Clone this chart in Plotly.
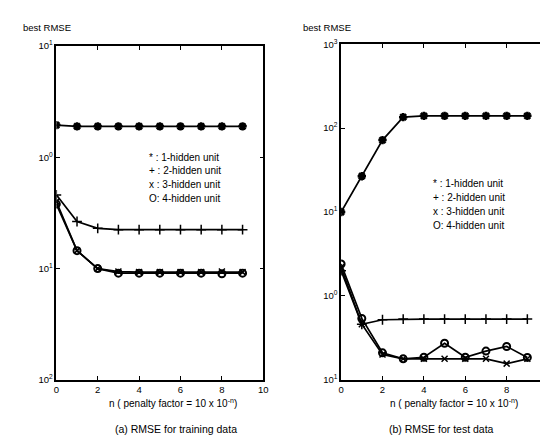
import plotly.graph_objects as go

n = [0, 1, 2, 3, 4, 5, 6, 7, 8, 9]

# (a) training data
train_h1 = [1.95, 1.9, 1.9, 1.9, 1.9, 1.9, 1.9, 1.9, 1.9, 1.9]
train_h2 = [0.46, 0.265, 0.23, 0.224, 0.224, 0.224, 0.224, 0.224, 0.224, 0.224]
train_h3 = [0.40, 0.145, 0.10, 0.094, 0.093, 0.093, 0.093, 0.093, 0.094, 0.093]
train_h4 = [0.38, 0.145, 0.10, 0.091, 0.091, 0.091, 0.091, 0.091, 0.090, 0.091]

# (b) test data
test_h1 = [10, 26.7, 72, 135, 140, 140, 140, 140, 140, 140]
test_h2 = [2.0, 0.46, 0.52, 0.53, 0.53, 0.53, 0.53, 0.53, 0.53, 0.53]
test_h3 = [2.2, 0.46, 0.20, 0.178, 0.178, 0.178, 0.178, 0.178, 0.156, 0.178]
test_h4 = [2.4, 0.54, 0.21, 0.178, 0.186, 0.273, 0.186, 0.22, 0.25, 0.185]

legend_lines = ["* : 1-hidden unit", "+ : 2-hidden unit", "x : 3-hidden unit", "O: 4-hidden unit"]
left_ticktext = ["10<sup>2</sup>", "10<sup>1</sup>", "10<sup>0</sup>", "10<sup>1</sup>"]
left_tickvals = [0.01, 0.1, 1, 10]
right_ticktext = ["10<sup>1</sup>", "10<sup>0</sup>", "10<sup>1</sup>", "10<sup>2</sup>", "10<sup>3</sup>"]
right_tickvals = [0.1, 1, 10, 100, 1000]

W, H = 548, 443
FONT = "Liberation Sans, Arial, sans-serif"

def px(x):
    return x / W

def py(y):
    return 1 - y / H

symbols = ["asterisk-open", "cross-thin-open", "x-thin-open", "circle-open"]
sizes = [7, 7, 6, 7]
mwidths = [2.5, 1.5, 1.5, 2]

fig = go.Figure()

for ax, series in (("", [train_h1, train_h2, train_h3, train_h4]),
                   ("2", [test_h1, test_h2, test_h3, test_h4])):
    for s, sym, sz, mw in zip(series, symbols, sizes, mwidths):
        fig.add_trace(go.Scatter(
            x=n, y=s, mode="lines+markers",
            xaxis="x" + ax, yaxis="y" + ax,
            line=dict(color="black", width=1.7),
            marker=dict(symbol=sym, size=sz, color="black",
                        line=dict(color="black", width=mw)),
            showlegend=False, hoverinfo="skip"))

axis_common = dict(showgrid=False, zeroline=False, showline=True, linecolor="black",
                   linewidth=1.5, mirror="ticks", ticks="inside", ticklen=4,
                   tickcolor="black", tickwidth=1,
                   tickfont=dict(family=FONT, size=9.5, color="black"))

fig.update_layout(
    width=W, height=H,
    margin=dict(l=0, r=0, t=0, b=0),
    paper_bgcolor="white", plot_bgcolor="white",
    xaxis=dict(domain=[px(46), px(256)], range=[0, 10], tickvals=[0, 2, 4, 6, 8, 10],
               anchor="y", **axis_common),
    yaxis=dict(domain=[py(375), py(32)], type="log", range=[-2, 1],
               tickvals=left_tickvals, ticktext=left_ticktext, anchor="x", **axis_common),
    xaxis2=dict(domain=[px(335), px(545)], range=[0, 10], tickvals=[0, 2, 4, 6, 8, 10],
                anchor="y2", **axis_common),
    yaxis2=dict(domain=[py(375), py(30)], type="log", range=[-1, 3],
                tickvals=right_tickvals, ticktext=right_ticktext, anchor="x2", **axis_common),
)

ann = []
def text(x, y, t, size=10, xanchor="center"):
    ann.append(dict(x=px(x), y=py(y), xref="paper", yref="paper", text=t,
                    showarrow=False, xanchor=xanchor, yanchor="middle",
                    font=dict(family=FONT, size=size, color="black")))

text(10, 13, "best RMSE", 9.5, "left")
text(294, 13, "best RMSE", 9.5, "left")
for i, t in enumerate(legend_lines):
    text(138, 146 + i * 14.3, t, 10, "left")
    text(426, 173 + i * 14.3, t, 10, "left")
xt = "n ( penalty factor = 10 x 10<sup>-n</sup>)"
text(164, 399, xt, 10)
text(450, 399, xt, 10)
text(167, 426, "(a) RMSE for training data", 10.5)
text(437, 426, "(b) RMSE for test data", 10.5)
fig.update_layout(annotations=ann)

fig.write_html("out.html")
